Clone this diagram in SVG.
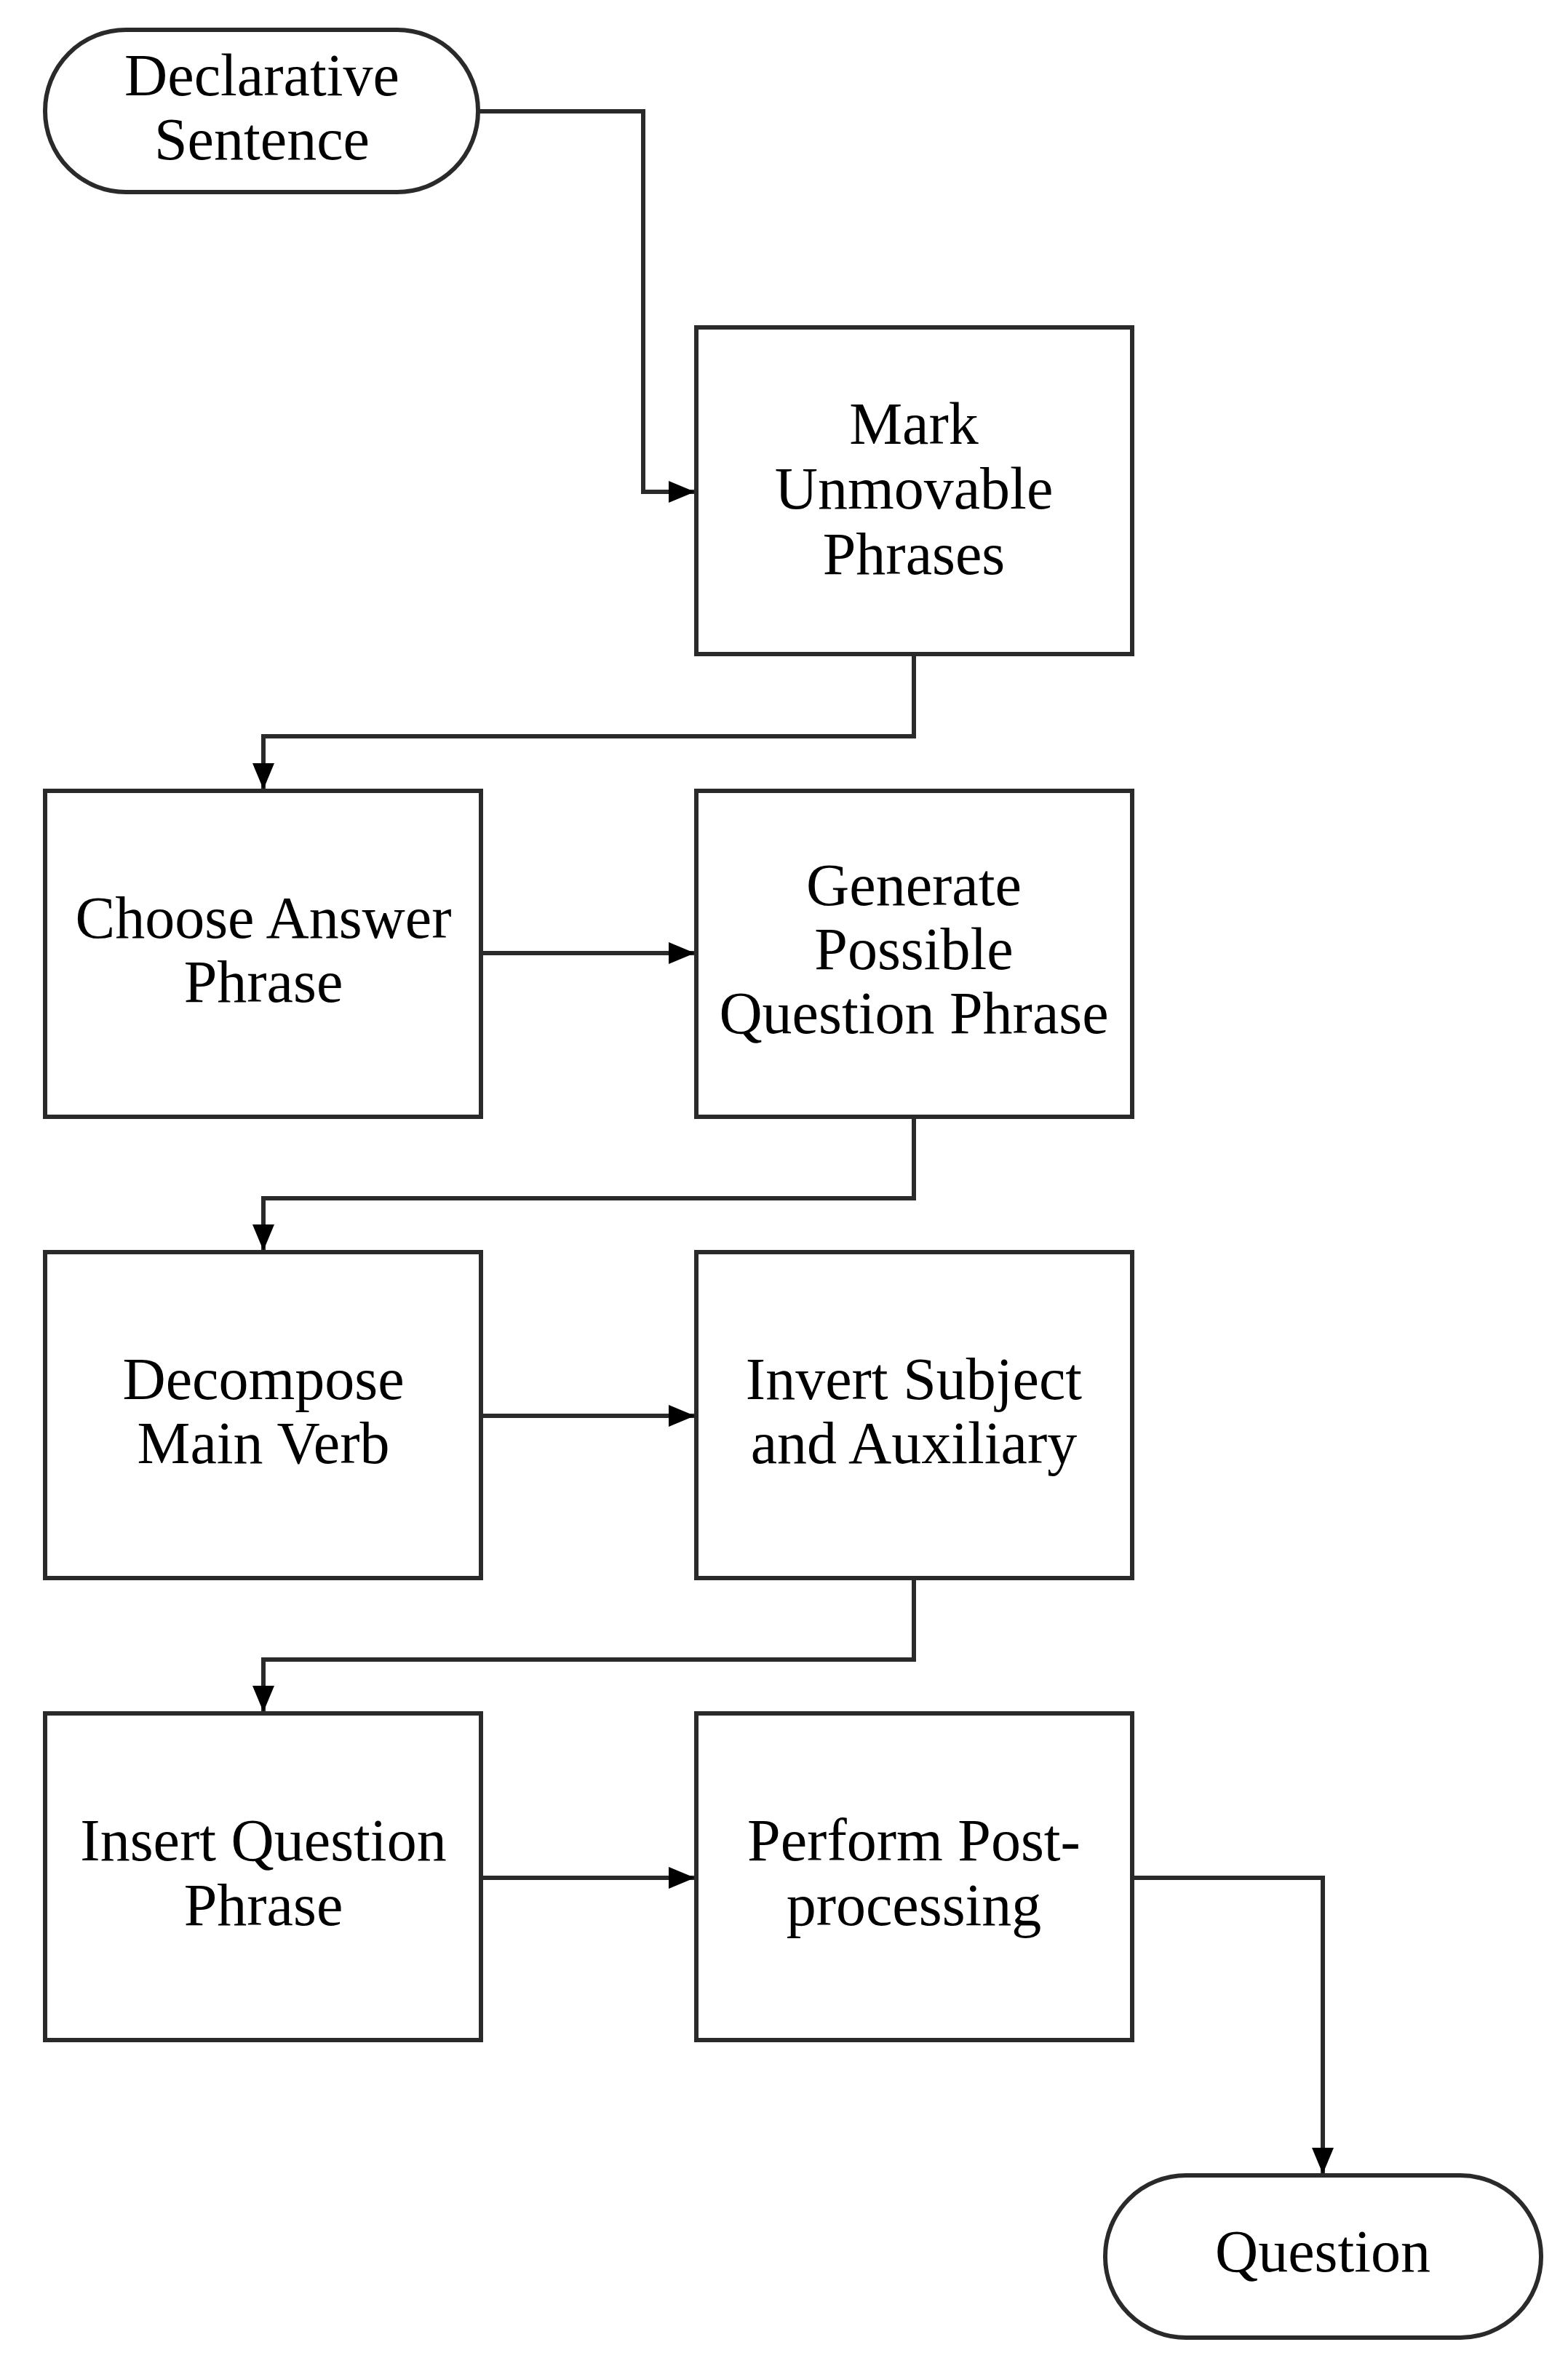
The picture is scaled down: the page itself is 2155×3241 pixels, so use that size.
<svg xmlns="http://www.w3.org/2000/svg" width="2155" height="3241" viewBox="0 0 2155 3241">
<style>
.n{fill:#fff;stroke:#2a2a2a;stroke-width:6}
.t{font-family:"Liberation Serif",serif;font-size:82px;fill:#000;text-anchor:middle}
.c{fill:none;stroke:#2a2a2a;stroke-width:6;marker-end:url(#a)}
</style>
<defs>
<marker id="a" markerUnits="userSpaceOnUse" markerWidth="36" markerHeight="30" refX="36" refY="15" orient="auto">
<path d="M0,0 L36,15 L0,30 z" fill="#000"/>
</marker>
</defs>
<rect width="2155" height="3241" fill="#fff"/>
<g id="connectors">
<path class="c" d="M657,153 H884 V676 H955"/>
<path class="c" d="M1256,899 V1012 H362 V1085"/>
<path class="c" d="M661,1310 H955"/>
<path class="c" d="M1256,1535 V1647 H362 V1719"/>
<path class="c" d="M661,1946 H955"/>
<path class="c" d="M1256,2169 V2281 H362 V2353"/>
<path class="c" d="M661,2581 H955"/>
<path class="c" d="M1556,2581 H1818 V2988"/>
</g>
<g id="declarative">
<rect class="n" x="62" y="41" width="595" height="223" rx="111" ry="111"/>
<text class="t" x="360" y="131">Declarative</text>
<text class="t" x="360" y="219">Sentence</text>
</g>
<g id="mark">
<rect class="n" x="957" y="450" width="599" height="449"/>
<text class="t" x="1256" y="610">Mark</text>
<text class="t" x="1256" y="699">Unmovable</text>
<text class="t" x="1256" y="789">Phrases</text>
</g>
<g id="choose">
<rect class="n" x="62" y="1087" width="599" height="448"/>
<text class="t" x="362" y="1289">Choose Answer</text>
<text class="t" x="362" y="1377">Phrase</text>
</g>
<g id="generate">
<rect class="n" x="957" y="1087" width="599" height="448"/>
<text class="t" x="1256" y="1244">Generate</text>
<text class="t" x="1256" y="1332">Possible</text>
<text class="t" x="1256" y="1420">Question Phrase</text>
</g>
<g id="decompose">
<rect class="n" x="62" y="1721" width="599" height="448"/>
<text class="t" x="362" y="1923">Decompose</text>
<text class="t" x="362" y="2011">Main Verb</text>
</g>
<g id="invert">
<rect class="n" x="957" y="1721" width="599" height="448"/>
<text class="t" x="1256" y="1923">Invert Subject</text>
<text class="t" x="1256" y="2011">and Auxiliary</text>
</g>
<g id="insert">
<rect class="n" x="62" y="2355" width="599" height="449"/>
<text class="t" x="362" y="2557">Insert Question</text>
<text class="t" x="362" y="2646">Phrase</text>
</g>
<g id="perform">
<rect class="n" x="957" y="2355" width="599" height="449"/>
<text class="t" x="1256" y="2557">Perform Post-</text>
<text class="t" x="1256" y="2646">processing</text>
</g>
<g id="question">
<rect class="n" x="1519" y="2990" width="599" height="223" rx="111" ry="111"/>
<text class="t" x="1818" y="3122">Question</text>
</g>
</svg>
